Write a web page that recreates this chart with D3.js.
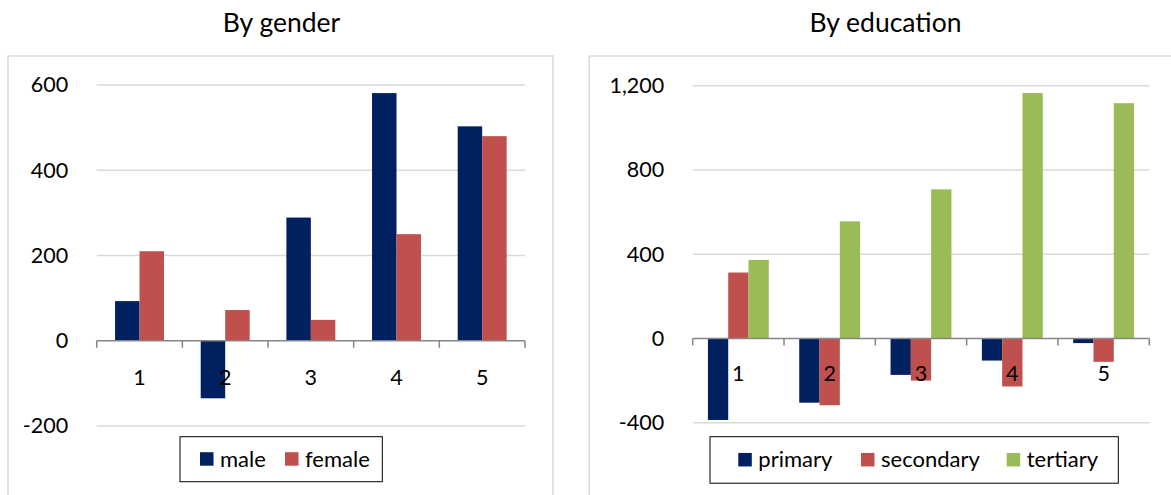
<!DOCTYPE html>
<html>
<head>
<meta charset="utf-8">
<script src="https://cdn.jsdelivr.net/npm/d3@7"></script>
<style>
  html, body { margin: 0; padding: 0; background: #fff; }
  svg { display: block; font-family: Lato, "Open Sans", sans-serif; }
</style>
</head>
<body>
<svg id="chart" width="1171" height="495"></svg>
<script>
// ---- data ----
const categories = ["1", "2", "3", "4", "5"];

const genderSeries = ["male", "female"];
const maleValues   = [93, -135, 289, 581, 503];
const femaleValues = [210, 72, 49, 250, 480];
const genderTicks  = [-200, 0, 200, 400, 600];

const eduSeries      = ["primary", "secondary", "tertiary"];
const primaryValues  = [-387, -305, -173, -105, -22];
const secondaryValues= [313, -317, -200, -228, -111];
const tertiaryValues = [373, 556, 708, 1165, 1117];
const eduTicks       = [-400, 0, 400, 800, 1200];

const colors = { male: "#002060", female: "#C0504D",
                 primary: "#002060", secondary: "#C0504D", tertiary: "#9BBB59" };

// ---- layout ----
const svg = d3.select("#chart");

const panels = [
  {
    title: "By gender",
    series: genderSeries,
    values: [maleValues, femaleValues],
    ticks: genderTicks,
    frame: { x: 8, y: 56, w: 545, h: 480 },
    titleX: 281.5,
    plot: { L: 96.7, R: 525, T: 85, B: 426 },
    labelGap: 28.5,
    catLabelDy: 44,
    legend: { x: 180, y: 436.7, w: 202.3, h: 45, items: [200, 285] }
  },
  {
    title: "By education",
    series: eduSeries,
    values: [primaryValues, secondaryValues, tertiaryValues],
    ticks: eduTicks,
    frame: { x: 589.3, y: 56, w: 600, h: 480 },
    titleX: 885.5,
    plot: { L: 692.7, R: 1149.3, T: 85.7, B: 422.7 },
    labelGap: 28.5,
    catLabelDy: 43,
    legend: { x: 710, y: 436.7, w: 408.3, h: 46.5, items: [738.3, 861, 1006.7] }
  }
];

const fmt = d => d3.format(",")(d).replace("\u2212", "-");

panels.forEach(p => {
  const g = svg.append("g");

  // frame
  g.append("rect")
    .attr("x", p.frame.x).attr("y", p.frame.y)
    .attr("width", p.frame.w).attr("height", p.frame.h)
    .attr("fill", "#fff").attr("stroke", "#d9d9d9").attr("stroke-width", 1.5);

  // title
  g.append("text")
    .attr("x", p.titleX).attr("y", 32)
    .attr("text-anchor", "middle")
    .attr("font-size", 26.5).attr("fill", "#000")
    .text(p.title);

  const y = d3.scaleLinear()
    .domain([p.ticks[0], p.ticks[p.ticks.length - 1]])
    .range([p.plot.B, p.plot.T]);

  const x0 = d3.scaleBand().domain(categories)
    .range([p.plot.L, p.plot.R]).padding(0);
  const x1 = d3.scaleBand().domain(p.series)
    .range([0, x0.bandwidth()]).paddingInner(0).paddingOuter(0.75);

  // gridlines
  g.append("g").selectAll("line")
    .data(p.ticks.filter(t => t !== 0))
    .join("line")
    .attr("x1", p.plot.L).attr("x2", p.plot.R)
    .attr("y1", d => y(d)).attr("y2", d => y(d))
    .attr("stroke", "#d9d9d9").attr("stroke-width", 1.5);

  // y axis labels (via d3 axis, no line)
  const yAxis = g.append("g")
    .attr("transform", `translate(${p.plot.L},0)`)
    .call(d3.axisLeft(y).tickValues(p.ticks).tickFormat(fmt).tickSize(0).tickPadding(p.labelGap));
  yAxis.select(".domain").remove();
  yAxis.selectAll("text")
    .attr("font-family", "Lato, 'Open Sans', sans-serif")
    .attr("font-size", 21.5).attr("fill", "#000");

  // bars
  const rows = [];
  p.series.forEach((s, si) => {
    categories.forEach((c, ci) => rows.push({ s, c, v: p.values[si][ci] }));
  });
  g.append("g").selectAll("rect")
    .data(rows)
    .join("rect")
    .attr("x", d => x0(d.c) + x1(d.s))
    .attr("width", x1.bandwidth())
    .attr("y", d => y(Math.max(0, d.v)))
    .attr("height", d => Math.abs(y(d.v) - y(0)))
    .attr("fill", d => colors[d.s]);

  // zero axis line with category boundary ticks
  const y0 = y(0);
  g.append("line")
    .attr("x1", p.plot.L).attr("x2", p.plot.R)
    .attr("y1", y0).attr("y2", y0)
    .attr("stroke", "#868686").attr("stroke-width", 1.5);
  const edges = categories.map(c => x0(c)).concat([p.plot.R]);
  g.append("g").selectAll("line")
    .data(edges)
    .join("line")
    .attr("x1", d => d).attr("x2", d => d)
    .attr("y1", y0).attr("y2", y0 + 7)
    .attr("stroke", "#868686").attr("stroke-width", 1.5);

  // category labels
  g.append("g").selectAll("text")
    .data(categories)
    .join("text")
    .attr("x", d => x0(d) + x0.bandwidth() / 2)
    .attr("y", y0 + p.catLabelDy)
    .attr("text-anchor", "middle")
    .attr("font-size", 21.5).attr("fill", "#000")
    .text(d => d);

  // legend
  const lg = g.append("g");
  lg.append("rect")
    .attr("x", p.legend.x).attr("y", p.legend.y)
    .attr("width", p.legend.w).attr("height", p.legend.h)
    .attr("fill", "#fff").attr("stroke", "#000").attr("stroke-width", 1);
  const midY = p.legend.y + p.legend.h / 2;
  p.series.forEach((s, i) => {
    const ix = p.legend.items[i];
    lg.append("rect")
      .attr("x", ix).attr("y", midY - 7)
      .attr("width", 13.5).attr("height", 13.5)
      .attr("fill", colors[s]);
    lg.append("text")
      .attr("x", ix + 20).attr("y", midY + 7.5)
      .attr("font-size", 22).attr("fill", "#000")
      .text(s);
  });
});
</script>
</body>
</html>
